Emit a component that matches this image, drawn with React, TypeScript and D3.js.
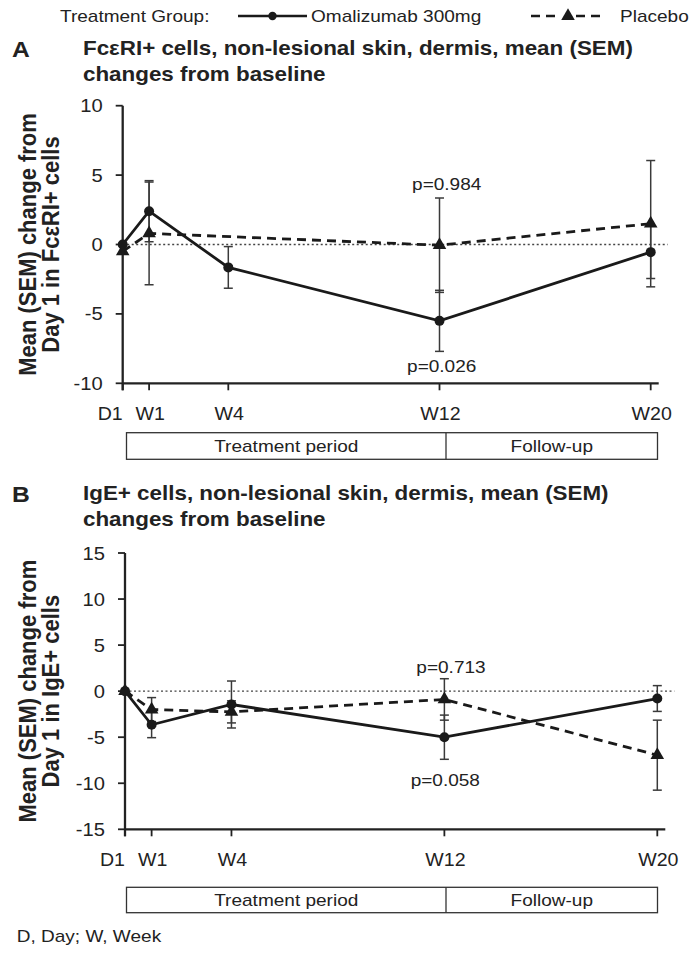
import React from 'react';
import * as d3 from 'd3';

// ---------- data ----------
const xTickWeeks = [0, 1, 4, 12, 20];
const xTickLabels = ['D1', 'W1', 'W4', 'W12', 'W20'];

const aYTicks = [-10, -5, 0, 5, 10];
const aOmaWeeks = [0, 1, 4, 12, 20];
const aOmaMean = [0, 2.4, -1.65, -5.5, -0.55];
const aOmaSem = [0, 2.2, 1.5, 2.2, 1.9];
const aPlaWeeks = [0, 1, 12, 20];
const aPlaMean = [-0.5, 0.8, -0.05, 1.5];
const aPlaSem = [0, 3.7, 3.4, 4.55];
const aPLabels = ['p=0.984', 'p=0.026'];

const bYTicks = [-15, -10, -5, 0, 5, 10, 15];
const bOmaWeeks = [0, 1, 4, 12, 20];
const bOmaMean = [0, -3.65, -1.45, -5.0, -0.8];
const bOmaSem = [0, 1.4, 2.55, 2.4, 1.4];
const bPlaWeeks = [0, 1, 4, 12, 20];
const bPlaMean = [0, -2.0, -2.25, -0.9, -6.95];
const bPlaSem = [0, 1.3, 1.2, 2.25, 3.8];
const bPLabels = ['p=0.713', 'p=0.058'];

const periodLabels = ['Treatment period', 'Follow-up'];
const legendTitle = 'Treatment Group:';
const seriesNames = ['Omalizumab 300mg', 'Placebo'];

// ---------- style ----------
const SX = 1.12;
const FONT = 'Liberation Sans, Arial, Helvetica, sans-serif';
const INK = '#222';

type TxtProps = {
  x: number; y: number; anchor?: string; size?: number; weight?: string;
  children: React.ReactNode; rot?: boolean; fill?: string;
};
function Txt({ x, y, anchor = 'start', size = 17, weight = 'normal', children, rot = false, fill = INK }: TxtProps) {
  const tr = rot
    ? `translate(${x},${y}) scale(1.05,1) rotate(-90)`
    : `translate(${x},${y}) scale(${SX},1)`;
  return (
    <text transform={tr} textAnchor={anchor} fontSize={size} fontWeight={weight}
      fontFamily={FONT} fill={fill}>{children}</text>
  );
}

const triPath = d3.symbol().type(d3.symbolTriangle).size(80)() as string;

type PanelProps = {
  x0: number; x1: number; yTop: number; yBot: number; domain: [number, number];
  yTicks: number[];
  omaW: number[]; omaM: number[]; omaS: number[];
  plaW: number[]; plaM: number[]; plaS: number[];
  pLabels: string[]; pTopPos: [number, number]; pBotPos: [number, number];
  letter: string; letterY: number; title: string[]; titleY: number;
  yLabel: string[]; boxTop: number; boxBot: number;
};

function Panel(p: PanelProps) {
  const x = d3.scaleLinear().domain([0, 20]).range([p.x0, p.x1]);
  const y = d3.scaleLinear().domain(p.domain).range([p.yBot, p.yTop]);
  const omaPts: [number, number][] = p.omaW.map((w, i) => [x(w), y(p.omaM[i])]);
  const plaPts: [number, number][] = p.plaW.map((w, i) => [x(w), y(p.plaM[i])]);
  const lineGen = d3.line<[number, number]>().x(d => d[0]).y(d => d[1]);
  const yMid = (p.yTop + p.yBot) / 2;
  const errBars = (ws: number[], ms: number[], ss: number[], key: string) =>
    ws.map((w, i) => {
      if (!ss[i]) return null;
      const cx = x(w);
      const t = y(ms[i] + ss[i]);
      const b = y(ms[i] - ss[i]);
      return (
        <g key={key + i} stroke="#3a3a3a" strokeWidth={1.5}>
          <line x1={cx} x2={cx} y1={t} y2={b} />
          <line x1={cx - 4.5} x2={cx + 4.5} y1={t} y2={t} />
          <line x1={cx - 4.5} x2={cx + 4.5} y1={b} y2={b} />
        </g>
      );
    });
  const boxL = 126.5, boxDiv = 446, boxR = 657.5;
  return (
    <g>
      <Txt x={12} y={p.letterY} size={22} weight="bold">{p.letter}</Txt>
      {p.title.map((t, i) => (
        <Txt key={i} x={83} y={p.titleY + i * 26} size={20} weight="bold">{t}</Txt>
      ))}
      {p.yLabel.map((t, i) => (
        <Txt key={i} x={36 + i * 22.5} y={yMid} size={22} weight="bold" anchor="middle" rot>{t}</Txt>
      ))}
      {/* zero reference */}
      <line x1={p.x0} x2={p.x1 + 17} y1={y(0)} y2={y(0)} stroke="#444" strokeWidth={1.3}
        strokeDasharray="2,2.5" />
      {/* axes */}
      <line x1={p.x0} x2={p.x0} y1={p.yTop} y2={p.yBot + 7} stroke={INK} strokeWidth={2.3} />
      <line x1={p.x0} x2={p.x1 + 8} y1={p.yBot} y2={p.yBot} stroke={INK} strokeWidth={2.3} />
      {p.yTicks.map(t => (
        <g key={t}>
          <line x1={p.x0 - 7} x2={p.x0} y1={y(t)} y2={y(t)} stroke={INK} strokeWidth={1.8} />
          <Txt x={p.x0 - 20} y={y(t) + 6.5} anchor="end" size={18}>{String(t)}</Txt>
        </g>
      ))}
      {xTickWeeks.map((w, i) => (
        <g key={w}>
          <line x1={x(w)} x2={x(w)} y1={p.yBot} y2={p.yBot + 7} stroke={INK} strokeWidth={1.8} />
          <Txt x={i === 0 ? x(w) : x(w) + 1} y={p.yBot + 37} anchor={i === 0 ? 'end' : 'middle'} size={17.5}>
            {xTickLabels[i]}
          </Txt>
        </g>
      ))}
      {/* error bars */}
      {errBars(p.plaW, p.plaM, p.plaS, 'p')}
      {errBars(p.omaW, p.omaM, p.omaS, 'o')}
      {/* lines */}
      <path d={lineGen(plaPts) || ''} fill="none" stroke="#1a1a1a" strokeWidth={2.8}
        strokeDasharray="9,6" />
      <path d={lineGen(omaPts) || ''} fill="none" stroke="#1a1a1a" strokeWidth={2.8} />
      {/* markers */}
      {omaPts.map((d, i) => <circle key={'c' + i} cx={d[0]} cy={d[1]} r={5} fill="#1a1a1a" />)}
      {plaPts.map((d, i) => (
        <path key={'t' + i} d={triPath} transform={`translate(${d[0]},${d[1]})`} fill="#1a1a1a" />
      ))}
      {/* p values */}
      <Txt x={p.pTopPos[0]} y={p.pTopPos[1]} anchor="middle">{p.pLabels[0]}</Txt>
      <Txt x={p.pBotPos[0]} y={p.pBotPos[1]} anchor="middle">{p.pLabels[1]}</Txt>
      {/* period boxes */}
      <g fill="none" stroke="#333" strokeWidth={1.3}>
        <rect x={boxL} y={p.boxTop} width={boxR - boxL} height={p.boxBot - p.boxTop} />
        <line x1={boxDiv} x2={boxDiv} y1={p.boxTop} y2={p.boxBot} />
      </g>
      <Txt x={(boxL + boxDiv) / 2} y={(p.boxTop + p.boxBot) / 2 + 6} anchor="middle">{periodLabels[0]}</Txt>
      <Txt x={(boxDiv + boxR) / 2} y={(p.boxTop + p.boxBot) / 2 + 6} anchor="middle">{periodLabels[1]}</Txt>
    </g>
  );
}

export default function App() {
  return (
    <svg width={696} height={956} style={{ position: 'absolute', left: 0, top: 0, background: '#fff' }}>
      <rect width={696} height={956} fill="#fff" />
      {/* legend */}
      <Txt x={60} y={22}>{legendTitle}</Txt>
      <line x1={238} x2={307} y1={16} y2={16} stroke="#1a1a1a" strokeWidth={2.4} />
      <circle cx={272.5} cy={16} r={4.2} fill="#1a1a1a" />
      <Txt x={311} y={22}>{seriesNames[0]}</Txt>
      <line x1={531} x2={606} y1={16} y2={16} stroke="#1a1a1a" strokeWidth={2.4} strokeDasharray="9,6" />
      <rect x={560} y={9} width={16} height={13} fill="#fff" />
      <path d={triPath} transform="translate(568,16)" fill="#1a1a1a" />
      <Txt x={620} y={22}>{seriesNames[1]}</Txt>

      <Panel x0={122.7} x1={650.7} yTop={105.7} yBot={383.3} domain={[-10, 10]} yTicks={aYTicks}
        omaW={aOmaWeeks} omaM={aOmaMean} omaS={aOmaSem}
        plaW={aPlaWeeks} plaM={aPlaMean} plaS={aPlaSem}
        pLabels={aPLabels} pTopPos={[446.7, 190]} pBotPos={[441.7, 372]}
        letter="A" letterY={57} title={['FcεRI+ cells, non-lesional skin, dermis, mean (SEM)', 'changes from baseline']}
        titleY={55} yLabel={['Mean (SEM) change from', 'Day 1 in FcεRI+ cells']}
        boxTop={432.7} boxBot={459.3} />

      <Panel x0={125} x1={657.3} yTop={553} yBot={829.3} domain={[-15, 15]} yTicks={bYTicks}
        omaW={bOmaWeeks} omaM={bOmaMean} omaS={bOmaSem}
        plaW={bPlaWeeks} plaM={bPlaMean} plaS={bPlaSem}
        pLabels={bPLabels} pTopPos={[451, 672.7]} pBotPos={[445.3, 786]}
        letter="B" letterY={502} title={['IgE+ cells, non-lesional skin, dermis, mean (SEM)', 'changes from baseline']}
        titleY={500} yLabel={['Mean (SEM) change from', 'Day 1 in IgE+ cells']}
        boxTop={887.3} boxBot={912.7} />

      <Txt x={16.7} y={941.7}>D, Day; W, Week</Txt>
    </svg>
  );
}
